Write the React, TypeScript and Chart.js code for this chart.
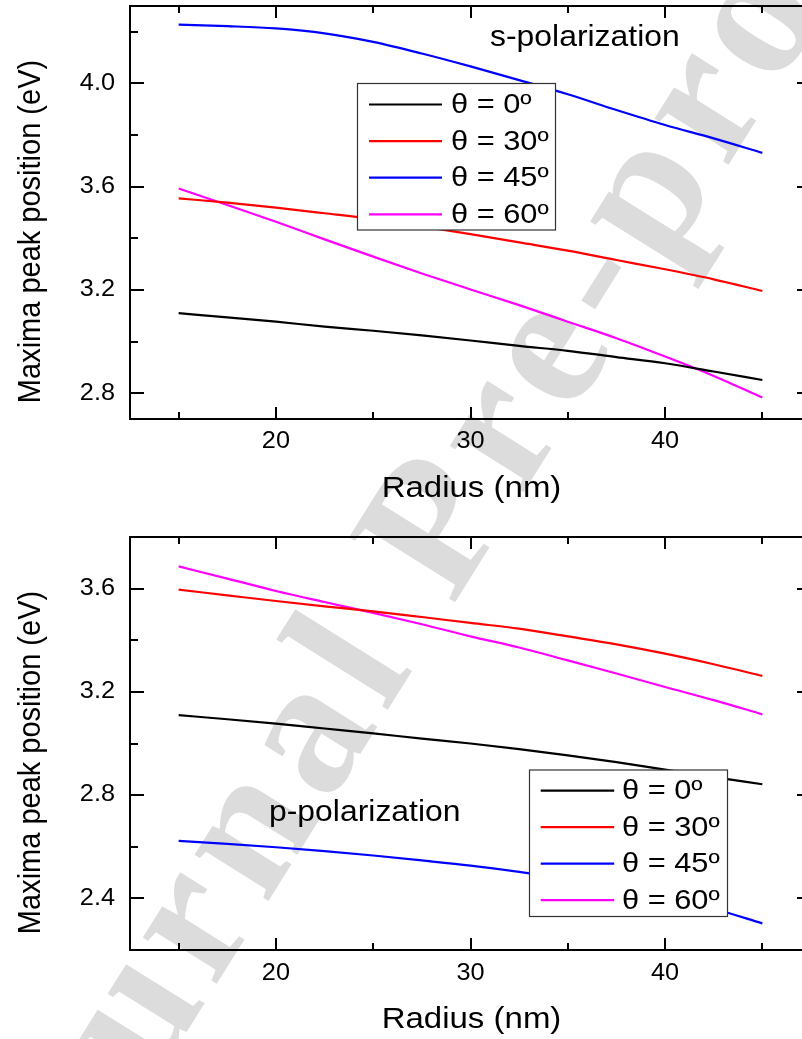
import React, { useEffect, useRef } from "react";
import { Chart, registerables } from "chart.js";

Chart.register(...registerables);

// ---------------- data ----------------
const radius = [15, 17.5, 20, 22.5, 25, 27.5, 30, 32.5, 35, 37.5, 40, 42.5, 45];
const seriesLabels = ["θ = 0º", "θ = 30º", "θ = 45º", "θ = 60º"];
const seriesColors = ["#000000", "#ff0000", "#0000ff", "#ff00ff"];

// s-polarization (top panel)
const sTheta0 = [3.110, 3.094, 3.077, 3.058, 3.042, 3.024, 3.004, 2.983, 2.964, 2.940, 2.916, 2.884, 2.851];
const sTheta30 = [3.555, 3.538, 3.519, 3.497, 3.474, 3.446, 3.416, 3.384, 3.352, 3.316, 3.280, 3.241, 3.196];
const sTheta45 = [4.228, 4.222, 4.213, 4.194, 4.161, 4.116, 4.066, 4.013, 3.958, 3.897, 3.839, 3.787, 3.731];
const sTheta60 = [3.593, 3.529, 3.464, 3.396, 3.329, 3.264, 3.202, 3.141, 3.077, 3.013, 2.942, 2.867, 2.783];

// p-polarization (bottom panel)
const pTheta0 = [3.110, 3.094, 3.077, 3.058, 3.039, 3.019, 3.000, 2.978, 2.954, 2.928, 2.899, 2.870, 2.842];
const pTheta30 = [3.596, 3.574, 3.552, 3.531, 3.512, 3.490, 3.467, 3.445, 3.415, 3.384, 3.348, 3.307, 3.262];
const pTheta45 = [2.623, 2.611, 2.598, 2.583, 2.566, 2.547, 2.527, 2.503, 2.475, 2.443, 2.405, 2.360, 2.303];
const pTheta60 = [3.686, 3.639, 3.591, 3.548, 3.506, 3.462, 3.415, 3.372, 3.322, 3.271, 3.219, 3.168, 3.113];

// ticks
const xMajorTicks = [20, 30, 40];
const xMinorTicks = [15, 25, 35, 45];
const sYMajorTicks = [2.8, 3.2, 3.6, 4.0];
const sYMinorTicks = [3.0, 3.4, 3.8, 4.2];
const pYMajorTicks = [2.4, 2.8, 3.2, 3.6];
const pYMinorTicks = [2.6, 3.0, 3.4];

const xTitle = "Radius (nm)";
const yTitle = "Maxima peak position (eV)";
const watermarkText = "Journal Pre-proof";

// ---------------- styling ----------------
const FONT = '"Liberation Sans", Arial, sans-serif';
const SX = 1.1; // horizontal stretch of the original figure's text
const TICK_FONT_SIZE = 23;
const XTITLE_FONT_SIZE = 30;
const YTITLE_FONT_SIZE = 29;
const NOTE_FONT_SIZE = 29;
const LEGEND_FONT_SIZE = 28;
const CANVAS_W = 830;

type LegendBox = { x: number; y: number; w: number; h: number; rowY: number; rowGap: number; lineX: number; lineLen: number; textX: number };
type Panel = {
  height: number;
  padTop: number;
  xAxisHeight: number;
  yMin: number;
  yMax: number;
  yMajor: number[];
  yMinor: number[];
  series: number[][];
  legend: LegendBox;
  note: { text: string; x: number; y: number };
  xLabelOffset: number;
};

function sText(ctx: CanvasRenderingContext2D, text: string, x: number, y: number, align: CanvasTextAlign, baseline: CanvasTextBaseline) {
  ctx.save();
  ctx.translate(x, y);
  ctx.scale(SX, 1);
  ctx.textAlign = align;
  ctx.textBaseline = baseline;
  ctx.fillText(text, 0, 0);
  ctx.restore();
}

const framePlugin = {
  id: "frame",
  afterDatasetsDraw(chart: any, _args: any, o: any) {
    const { ctx, chartArea } = chart;
    const { left, right, top, bottom } = chartArea;
    const xs = chart.scales.x;
    const ys = chart.scales.y;
    ctx.save();
    ctx.strokeStyle = "#000";
    ctx.lineWidth = 2;
    ctx.strokeRect(left, top, right - left, bottom - top);
    ctx.beginPath();
    const xt = (vals: number[], len: number) =>
      vals.forEach((v) => {
        const px = Math.round(xs.getPixelForValue(v));
        ctx.moveTo(px, bottom);
        ctx.lineTo(px, bottom - len);
        ctx.moveTo(px, top);
        ctx.lineTo(px, top + len);
      });
    const yt = (vals: number[], len: number) =>
      vals.forEach((v) => {
        const py = Math.round(ys.getPixelForValue(v));
        ctx.moveTo(left, py);
        ctx.lineTo(left + len, py);
        ctx.moveTo(right, py);
        ctx.lineTo(right - len, py);
      });
    xt(o.xMajor, 12);
    xt(o.xMinor, 7);
    yt(o.yMajor, 14);
    yt(o.yMinor, 8);
    ctx.stroke();
    ctx.restore();
  },
};

const decorPlugin = {
  id: "decor",
  afterDraw(chart: any, _args: any, o: any) {
    const { ctx, chartArea } = chart;
    const { left, right, top, bottom } = chartArea;
    const xs = chart.scales.x;
    const ys = chart.scales.y;
    ctx.save();
    ctx.fillStyle = "#000";
    // tick labels
    ctx.font = `${TICK_FONT_SIZE}px ${FONT}`;
    o.xMajor.forEach((v: number) => sText(ctx, String(v), xs.getPixelForValue(v), bottom + o.xLabelOffset, "center", "middle"));
    o.yMajor.forEach((v: number) => sText(ctx, v.toFixed(1), left - 15, ys.getPixelForValue(v), "right", "middle"));
    // axis titles
    ctx.font = `${XTITLE_FONT_SIZE}px ${FONT}`;
    sText(ctx, o.xTitle, (left + right) / 2 + 1, bottom + 78, "center", "alphabetic");
    ctx.save();
    ctx.font = `${YTITLE_FONT_SIZE}px ${FONT}`;
    ctx.translate(40, (top + bottom) / 2 + 19);
    ctx.scale(SX, 1);
    ctx.rotate(-Math.PI / 2);
    ctx.textAlign = "center";
    ctx.textBaseline = "alphabetic";
    ctx.fillText(o.yTitle, 0, 0);
    ctx.restore();
    // note
    ctx.font = `${NOTE_FONT_SIZE}px ${FONT}`;
    sText(ctx, o.note.text, o.note.x, o.note.y, "left", "alphabetic");
    // legend
    const L: LegendBox = o.legend;
    ctx.fillStyle = "#fff";
    ctx.fillRect(L.x, L.y, L.w, L.h);
    ctx.strokeStyle = "#333";
    ctx.lineWidth = 1.2;
    ctx.strokeRect(L.x, L.y, L.w, L.h);
    ctx.font = `${LEGEND_FONT_SIZE}px ${FONT}`;
    chart.data.datasets.forEach((ds: any, i: number) => {
      const y = L.rowY + i * L.rowGap;
      ctx.strokeStyle = ds.borderColor;
      ctx.lineWidth = 2.2;
      ctx.beginPath();
      ctx.moveTo(L.lineX, y);
      ctx.lineTo(L.lineX + L.lineLen, y);
      ctx.stroke();
      ctx.fillStyle = "#000";
      sText(ctx, ds.label, L.textX, y + 1, "left", "middle");
    });
    ctx.restore();
  },
};

function makeChart(canvas: HTMLCanvasElement, p: Panel) {
  return new Chart(canvas, {
    type: "line",
    data: {
      labels: radius,
      datasets: p.series.map((vals, i) => ({
        label: seriesLabels[i],
        data: vals.map((v, j) => ({ x: radius[j], y: v })),
        borderColor: seriesColors[i],
        backgroundColor: seriesColors[i],
        borderWidth: 2.2,
        pointRadius: 0,
        cubicInterpolationMode: "monotone" as const,
        fill: false,
      })),
    },
    options: {
      responsive: false,
      animation: false,
      devicePixelRatio: 1,
      layout: { padding: { top: p.padTop, right: CANVAS_W - 811, left: 0, bottom: 0 } },
      scales: {
        x: {
          type: "linear",
          min: 12.5,
          max: 47.5,
          grid: { display: false, drawTicks: false },
          border: { display: false },
          afterBuildTicks: (s: any) => {
            s.ticks = xMajorTicks.map((v) => ({ value: v }));
          },
          afterFit: (s: any) => {
            s.height = p.xAxisHeight;
            s.paddingLeft = 0;
            s.paddingRight = 0;
          },
          ticks: { display: false },
        },
        y: {
          type: "linear",
          min: p.yMin,
          max: p.yMax,
          grid: { display: false, drawTicks: false },
          border: { display: false },
          afterBuildTicks: (s: any) => {
            s.ticks = p.yMajor.map((v) => ({ value: v }));
          },
          afterFit: (s: any) => {
            s.width = 130;
            s.paddingTop = 0;
            s.paddingBottom = 0;
          },
          ticks: { display: false },
        },
      },
      plugins: {
        legend: { display: false },
        tooltip: { enabled: false },
        frame: { xMajor: xMajorTicks, xMinor: xMinorTicks, yMajor: p.yMajor, yMinor: p.yMinor },
        decor: { xTitle, yTitle, note: p.note, legend: p.legend, xMajor: xMajorTicks, yMajor: p.yMajor, xLabelOffset: p.xLabelOffset },
      } as any,
    },
    plugins: [framePlugin, decorPlugin],
  } as any);
}

const topPanel: Panel = {
  height: 520,
  padTop: 6,
  xAxisHeight: 101,
  yMin: 2.7,
  yMax: 4.3,
  yMajor: sYMajorTicks,
  yMinor: sYMinorTicks,
  series: [sTheta0, sTheta30, sTheta45, sTheta60],
  legend: { x: 357.5, y: 83.5, w: 198, h: 146.5, rowY: 104.5, rowGap: 36.6, lineX: 369, lineLen: 73, textX: 451 },
  note: { text: "s-polarization", x: 490, y: 46 },
  xLabelOffset: 23,
};

const bottomPanel: Panel = {
  height: 519,
  padTop: 17,
  xAxisHeight: 89,
  yMin: 2.2,
  yMax: 3.8,
  yMajor: pYMajorTicks,
  yMinor: pYMinorTicks,
  series: [pTheta0, pTheta30, pTheta45, pTheta60],
  legend: { x: 529.5, y: 250, w: 198, h: 146.5, rowY: 270.7, rowGap: 36.5, lineX: 540.7, lineLen: 73.5, textX: 622 },
  note: { text: "p-polarization", x: 269, y: 300.7 },
  xLabelOffset: 24,
};

export default function App() {
  const wmRef = useRef<HTMLCanvasElement>(null);
  const topRef = useRef<HTMLCanvasElement>(null);
  const botRef = useRef<HTMLCanvasElement>(null);

  useEffect(() => {
    const wm = wmRef.current!.getContext("2d")!;
    wm.clearRect(0, 0, 802, 1039);
    wm.save();
    wm.fillStyle = "rgb(220,220,220)";
    wm.font = 'bold 190px "Liberation Serif", "DejaVu Serif", serif';
    (wm as any).letterSpacing = "13px";
    wm.translate(36.7, 1271.7);
    wm.rotate((-58 * Math.PI) / 180);
    wm.fillText(watermarkText, 0, 0);
    wm.restore();

    const c1 = makeChart(topRef.current!, topPanel);
    const c2 = makeChart(botRef.current!, bottomPanel);
    return () => {
      c1.destroy();
      c2.destroy();
    };
  }, []);

  return (
    <div style={{ position: "absolute", left: 0, top: 0, width: 802, height: 1039, overflow: "hidden", background: "#fff" }}>
      <canvas ref={wmRef} width={802} height={1039} style={{ position: "absolute", left: 0, top: 0, width: 802, height: 1039 }} />
      <canvas ref={topRef} width={CANVAS_W} height={520} style={{ position: "absolute", left: 0, top: 0, width: CANVAS_W, height: 520 }} />
      <canvas ref={botRef} width={CANVAS_W} height={519} style={{ position: "absolute", left: 0, top: 520, width: CANVAS_W, height: 519 }} />
    </div>
  );
}
